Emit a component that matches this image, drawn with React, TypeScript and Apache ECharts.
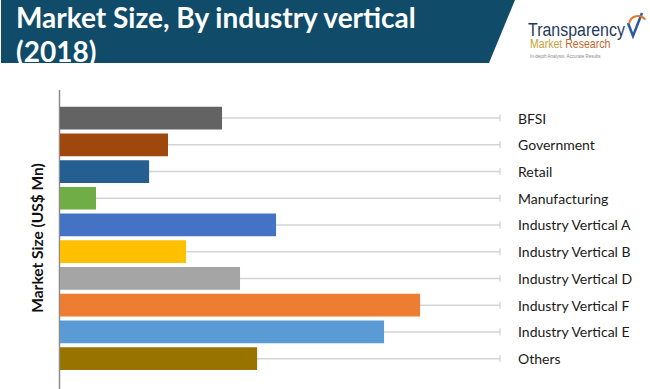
import React, { useEffect, useRef } from "react";
import * as echarts from "echarts";

const categories = [
  "BFSI",
  "Government",
  "Retail",
  "Manufacturing",
  "Industry Vertical A",
  "Industry Vertical B",
  "Industry Vertical D",
  "Industry Vertical F",
  "Industry Vertical E",
  "Others",
];
const values = [9, 6, 4.95, 2, 12, 7, 10, 20, 18, 10.95];
const barColors = [
  "#636363",
  "#9e480e",
  "#255e91",
  "#70ad47",
  "#4472c4",
  "#ffc000",
  "#a5a5a5",
  "#ed7d31",
  "#5b9bd5",
  "#997300",
];
const axisMax = 24.44;
const titleLines = ["Market Size, By industry vertical", "(2018)"];
const yAxisTitle = "Market Size (US$ Mn)";

export default function App() {
  const ref = useRef<HTMLDivElement>(null);
  useEffect(() => {
    if (!ref.current) return;
    const chart = echarts.init(ref.current, undefined, { renderer: "svg" });
    chart.setOption({
      animation: false,
      backgroundColor: "#ffffff",
      grid: { left: 60, right: 150, top: 104.7, bottom: 17, containLabel: false },
      xAxis: {
        type: "value",
        min: 0,
        max: axisMax,
        show: false,
      },
      yAxis: {
        type: "category",
        data: categories,
        inverse: true,
        position: "right",
        axisLine: { show: false },
        axisTick: { show: false },
        axisLabel: {
          margin: 18,
          color: "#1a1a1a",
          fontFamily: "Lato",
          fontSize: 14,
          align: "left",
        },
        splitLine: { show: false },
      },
      series: [
        {
          type: "custom",
          z: 1,
          silent: true,
          encode: { x: 0, y: 1 },
          data: categories.map((_, i) => [axisMax, i]),
          renderItem: (params: any, api: any) => {
            const start = api.coord([0, api.value(1)]);
            const end = api.coord([api.value(0), api.value(1)]);
            return {
              type: "group",
              children: [
                {
                  type: "line",
                  shape: { x1: start[0], y1: start[1], x2: end[0], y2: end[1] },
                  style: { stroke: "#d4d4d4", lineWidth: 1.5 },
                },
                {
                  type: "line",
                  shape: { x1: end[0], y1: end[1] - 3.5, x2: end[0], y2: end[1] + 3.5 },
                  style: { stroke: "#c8c8c8", lineWidth: 1 },
                },
              ],
            };
          },
        },
        {
          type: "bar",
          z: 2,
          barCategoryGap: "15%",
          data: values.map((v, i) => ({ value: v, itemStyle: { color: barColors[i] } })),
        },
      ],
      graphic: [
        {
          type: "polygon",
          shape: { points: [[1, 0], [515, 0], [489, 63], [1, 63]] },
          style: { fill: "#104c69" },
        },
        {
          type: "text",
          x: 16,
          y: 17,
          style: {
            text: titleLines[0],
            fill: "#ffffff",
            font: "bold 28px Lato",
            verticalAlign: "middle",
          },
        },
        {
          type: "text",
          x: 16,
          y: 51,
          style: {
            text: titleLines[1],
            fill: "#ffffff",
            font: "bold 28px Lato",
            verticalAlign: "middle",
          },
        },
        {
          type: "text",
          x: 528,
          y: 30,
          scaleX: 0.84,
          style: {
            text: "Transparency",
            fill: "#1f3b5e",
            font: "19px 'Liberation Sans', sans-serif",
            verticalAlign: "middle",
          },
        },
        {
          type: "text",
          x: 530,
          y: 44,
          scaleX: 0.88,
          style: {
            text: "{a|Market} {b|Research}",
            verticalAlign: "middle",
            rich: {
              a: { fill: "#c9a23a", font: "12px 'Liberation Sans', sans-serif" },
              b: { fill: "#c0652a", font: "12px 'Liberation Sans', sans-serif" },
            },
          },
        },
        {
          type: "text",
          x: 530,
          y: 56,
          scaleX: 0.9,
          style: {
            text: "In-depth Analysis. Accurate Results",
            fill: "#8a8a8a",
            font: "5px 'Liberation Sans', sans-serif",
            verticalAlign: "middle",
          },
        },
        {
          type: "polyline",
          shape: { points: [[628, 23], [633, 36], [642, 13]] },
          style: { stroke: "#2a5aa0", lineWidth: 2.5, fill: null },
        },
        {
          type: "arc",
          shape: { cx: 638, cy: 25, r: 9, startAngle: -Math.PI * 0.95, endAngle: -Math.PI * 0.2 },
          style: { stroke: "#e07a2a", lineWidth: 2, fill: null },
        },
        {
          type: "line",
          shape: { x1: 59.5, y1: 90, x2: 59.5, y2: 389 },
          style: { stroke: "#8c8c8c", lineWidth: 1.5 },
        },
        {
          type: "text",
          x: 37,
          y: 238,
          rotation: Math.PI / 2,
          style: {
            text: yAxisTitle,
            fill: "#111111",
            font: "bold 15.5px Lato",
            align: "center",
            verticalAlign: "middle",
          },
        },
      ],
    });
    return () => chart.dispose();
  }, []);
  return <div ref={ref} style={{ width: 650, height: 389, position: "absolute", left: 0, top: 0 }} />;
}
